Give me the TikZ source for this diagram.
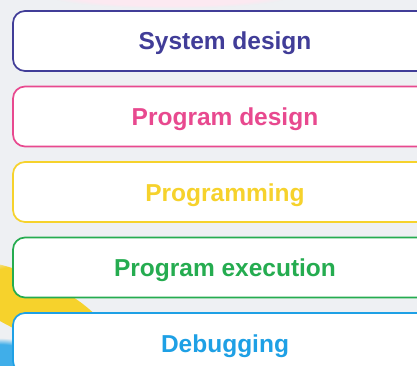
\documentclass[tikz,border=0pt]{standalone}
\usepackage{fontspec}
\setmainfont{Liberation Sans}
\usepackage{tikz}
\usetikzlibrary{positioning}
\usetikzlibrary{fadings}
\definecolor{sysblue}{HTML}{413D98}
\definecolor{progpink}{HTML}{E8498F}
\definecolor{codeyellow}{HTML}{F6D22C}
\definecolor{rungreen}{HTML}{25AC50}
\definecolor{bugblue}{HTML}{1EA0E5}
\definecolor{bggray}{HTML}{EEF0F3}
\tikzset{stage/.style = {draw=#1, text=#1, fill=white, line width=1.7pt,
                         rounded corners=12pt, minimum width=424pt,
                         minimum height=60pt, outer sep=0pt,
                         text height=18pt, text depth=0pt,
                         font=\fontsize{24.5}{24.5}\selectfont\bfseries}}
\tikzset{blob/.style = {path fading=circle with fuzzy edge 20 percent}}

\begin{document}
\begin{tikzpicture}[x=1pt, y=1pt, node distance=15.5pt]
    % backdrop
    \fill [bggray] (0, 0) rectangle (417, -366);
    \useasboundingbox (0, 0) rectangle (417, -366);
    \fill [progpink!12, blob] (170, 4) ellipse (120 and 12);
    \fill [codeyellow, blob, rotate around={-25:(30, -305)}] (30, -305) ellipse (85 and 28);
    \fill [bugblue!85, blob] (0, -370) ellipse (50 and 32);
    % stages
    \node [stage=sysblue] (sysdesign) at (225, -41) {System design};
    \node [stage=progpink, below=of sysdesign] (progdesign) {Program design};
    \node [stage=codeyellow, below=of progdesign] (coding) {Programming};
    \node [stage=rungreen, below=of coding] (running) {Program execution};
    \node [stage=bugblue, below=of running] (debugging) {Debugging};
  \end{tikzpicture}
\end{document}
